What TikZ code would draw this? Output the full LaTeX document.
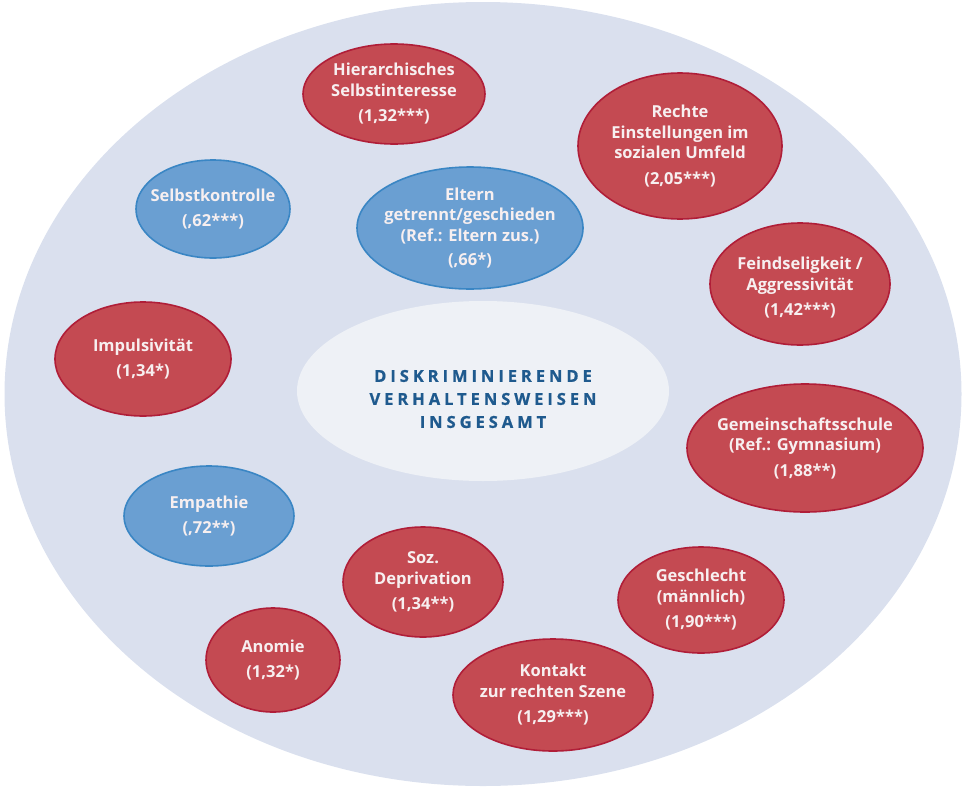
\documentclass[tikz,border=0pt]{standalone}
\usepackage{fontspec}
\setmainfont{Open Sans}
\newfontfamily\spacedfont[LetterSpace=24, BoldFeatures={FakeBold=0.8}]{Open Sans}
\usetikzlibrary{shapes.geometric}
\definecolor{bgblue}{HTML}{DAE0EE}
\definecolor{centerfill}{HTML}{EEF1F6}
\definecolor{redfill}{HTML}{C44A52}
\definecolor{redline}{HTML}{B01E38}
\definecolor{bluefill}{HTML}{6A9FD2}
\definecolor{blueline}{HTML}{3A86C4}
\definecolor{titleblue}{HTML}{1F5A8E}
\definecolor{txtwhite}{HTML}{F7EFF0}
\tikzset{
  blob/.style n args={2}{ellipse, inner sep=0pt, minimum width=#1, minimum height=#2, line width=1.6pt},
  redblob/.style={fill=redfill, draw=redline},
  blueblob/.style={fill=bluefill, draw=blueline},
  txt/.style={text=txtwhite, font=\bfseries\fontsize{16.5}{20.5}\selectfont, align=center, inner sep=0pt},
}
\begin{document}
\begin{tikzpicture}[x=1pt,y=-1pt]
\useasboundingbox (0,0) rectangle (966,787);
\node[ellipse, inner sep=0pt, minimum width=957, minimum height=784, fill=bgblue] (bg) at (483,394) {};
\node[blob={372}{180}, fill=centerfill, label={[text=titleblue, font=\bfseries\fontsize{16.5}{23}\selectfont, align=center, inner sep=0pt, yshift=-8pt]center:{\spacedfont DISKRIMINIERENDE\\ \spacedfont VERHALTENSWEISEN\\ \spacedfont INSGESAMT}}] (center) at (483,391) {};
\node[blob={182}{100}, redblob, label={[txt]center:{Hierarchisches\\Selbstinteresse\\[5pt](1,32***)}}] (hier) at (394,94) {};
\node[blob={204}{146}, redblob, label={[txt]center:{Rechte\\Einstellungen im\\sozialen Umfeld\\[5pt](2,05***)}}] (rechte) at (680,146) {};
\node[blob={154}{98}, blueblob, label={[txt]center:{Selbstkontrolle\\[4pt](,62***)}}] (selbst) at (213,209) {};
\node[blob={226}{122}, blueblob, label={[txt]center:{Eltern\\getrennt/geschieden\\(Ref.: Eltern zus.)\\[4pt](,66*)}}] (eltern) at (470,228) {};
\node[blob={180}{122}, redblob, label={[txt, yshift=-4pt]center:{Feindseligkeit /\\Aggressivität\\[5pt](1,42***)}}] (feind) at (800,284) {};
\node[blob={176}{114}, redblob, label={[txt]center:{Impulsivität\\[5pt](1,34*)}}] (impuls) at (143,359) {};
\node[blob={236}{128}, redblob, label={[txt]center:{Gemeinschaftsschule\\(Ref.: Gymnasium)\\[5pt](1,88**)}}] (gemein) at (805,448) {};
\node[blob={170}{100}, blueblob, label={[txt]center:{Empathie\\[5pt](,72**)}}] (empathie) at (209,516) {};
\node[blob={160}{110}, redblob, label={[txt]center:{Soz.\\Deprivation\\[5pt](1,34**)}}] (soz) at (423,582) {};
\node[blob={166}{106}, redblob, label={[txt]center:{Geschlecht\\(männlich)\\[5pt](1,90***)}}] (geschl) at (701,600) {};
\node[blob={134}{104}, redblob, label={[txt]center:{Anomie\\[5pt](1,32*)}}] (anomie) at (273,660) {};
\node[blob={200}{112}, redblob, label={[txt]center:{Kontakt\\zur rechten Szene\\[5pt](1,29***)}}] (kontakt) at (553,695) {};
\end{tikzpicture}
\end{document}
